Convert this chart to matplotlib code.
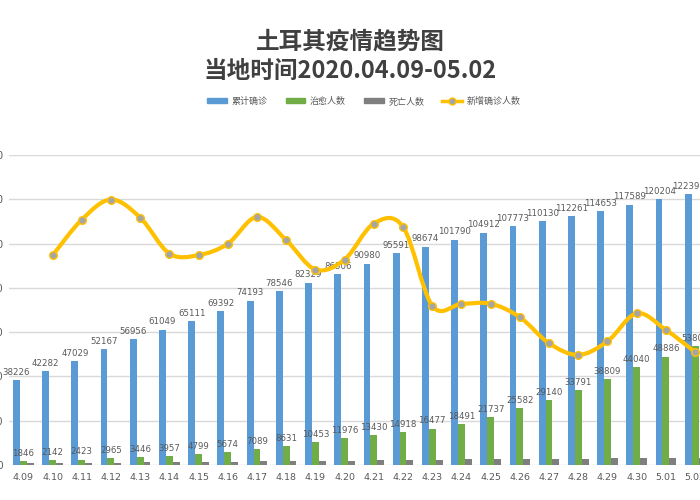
import matplotlib
matplotlib.use("Agg")
import matplotlib.pyplot as plt
import numpy as np
from matplotlib.path import Path
from matplotlib.patches import PathPatch, Patch
from matplotlib.lines import Line2D

plt.rcParams['font.family'] = ['Noto Sans CJK SC', 'DejaVu Sans']

dates = ["4.09", "4.10", "4.11", "4.12", "4.13", "4.14", "4.15", "4.16", "4.17", "4.18", "4.19", "4.20",
         "4.21", "4.22", "4.23", "4.24", "4.25", "4.26", "4.27", "4.28", "4.29", "4.30", "5.01", "5.02"]
confirmed = [38226, 42282, 47029, 52167, 56956, 61049, 65111, 69392, 74193, 78546, 82329, 86306,
             90980, 95591, 98674, 101790, 104912, 107773, 110130, 112261, 114653, 117589, 120204, 122392]
recovered = [1846, 2142, 2423, 2965, 3446, 3957, 4799, 5674, 7089, 8631, 10453, 11976,
             13430, 14918, 16477, 18491, 21737, 25582, 29140, 33791, 38809, 44040, 48886, 53808]
deaths = [812, 908, 1006, 1101, 1198, 1296, 1403, 1518, 1643, 1769, 1890, 2017,
          2140, 2259, 2376, 2491, 2600, 2706, 2805, 2900, 2992, 3081, 3174, 3258]
# new confirmed, from 4.10 on
new_cases = [4056, 4747, 5138, 4789, 4093, 4062, 4281, 4801, 4353, 3783, 3977,
             4674, 4611, 3083, 3116, 3122, 2861, 2357, 2131, 2392, 2936, 2615, 2188]

c_blue = "#5B9BD5"
c_green = "#70AD47"
c_gray = "#7F7F7F"
c_yellow = "#FFC000"
c_text = "#595959"

fig = plt.figure(figsize=(7, 5), dpi=100)
ax = fig.add_axes([8.7 / 700, 0.07, 701 / 700, 0.62])
ax2 = ax.twinx()

x = np.arange(len(dates))
w = 0.235
ax.bar(x - w, confirmed, w, color=c_blue, zorder=2)
ax.bar(x, recovered, w, color=c_green, zorder=2)
ax.bar(x + w, deaths, w, color=c_gray, zorder=2)

for i in range(len(dates)):
    ax.text(x[i] - w, confirmed[i] + 1500, str(confirmed[i]), ha="center", va="bottom",
            fontsize=6.2, color=c_text, family="DejaVu Sans", zorder=3)
    ax.text(x[i], recovered[i] + 1500, str(recovered[i]), ha="center", va="bottom",
            fontsize=6.2, color=c_text, family="DejaVu Sans", zorder=3)

ax.set_xlim(-0.5, len(dates) - 0.5)
ax.set_ylim(0, 140000)
ax.set_yticks(np.arange(0, 140001, 20000))
ax.grid(axis="y", color="#D9D9D9", linewidth=1, zorder=0)
ax.set_axisbelow(True)
ax.set_xticks(x)
ax.set_xticklabels(dates, fontsize=6.8, color=c_text, family="DejaVu Sans")
ax.tick_params(axis="both", length=0, labelcolor=c_text)
ax.tick_params(axis="x", pad=6)
ax.tick_params(axis="y", labelsize=7, pad=4)
for s in ax.spines.values():
    s.set_visible(False)
for s in ax2.spines.values():
    s.set_visible(False)

# smoothed new-cases line on secondary axis
ax2.set_ylim(0, 6000)
ax2.set_yticks([])
lx = x[1:]
pts = np.column_stack([lx, new_cases]).astype(float)
verts = [pts[0]]
codes = [Path.MOVETO]
n = len(pts)
for i in range(n - 1):
    p0 = pts[i - 1] if i > 0 else pts[i]
    p1 = pts[i]
    p2 = pts[i + 1]
    p3 = pts[i + 2] if i + 2 < n else pts[i + 1]
    verts += [p1 + (p2 - p0) / 6, p2 - (p3 - p1) / 6, p2]
    codes += [Path.CURVE4] * 3
ax2.add_patch(PathPatch(Path(verts, codes), facecolor="none", edgecolor=c_yellow,
                        linewidth=3, zorder=4))
ax2.plot(lx, new_cases, linestyle="none", marker="o", markersize=5.5,
         markerfacecolor="#A5A5A5", markeredgecolor=c_yellow, markeredgewidth=1, zorder=5)

fig.text(0.5, 0.918, "土耳其疫情趋势图", ha="center", va="center", fontsize=17,
         fontweight="bold", color="#404040")
fig.text(0.5, 0.858, "当地时间2020.04.09-05.02", ha="center", va="center", fontsize=17,
         fontweight="bold", color="#404040")

handles = [Patch(color=c_blue), Patch(color=c_green), Patch(color=c_gray),
           Line2D([0], [0], color=c_yellow, linewidth=2.5, marker="o", markersize=5,
                  markerfacecolor="#A5A5A5", markeredgecolor=c_yellow)]
labels = ["累计确诊", "治愈人数", "死亡人数", "新增确诊人数"]
fig.legend(handles, labels, loc="center", bbox_to_anchor=(0.52, 0.797), ncol=4,
           frameon=False, fontsize=6.5, labelcolor=c_text, handlelength=2.2,
           handleheight=0.45, columnspacing=2.0, handletextpad=0.5)

fig.savefig("out.png", dpi=100)
